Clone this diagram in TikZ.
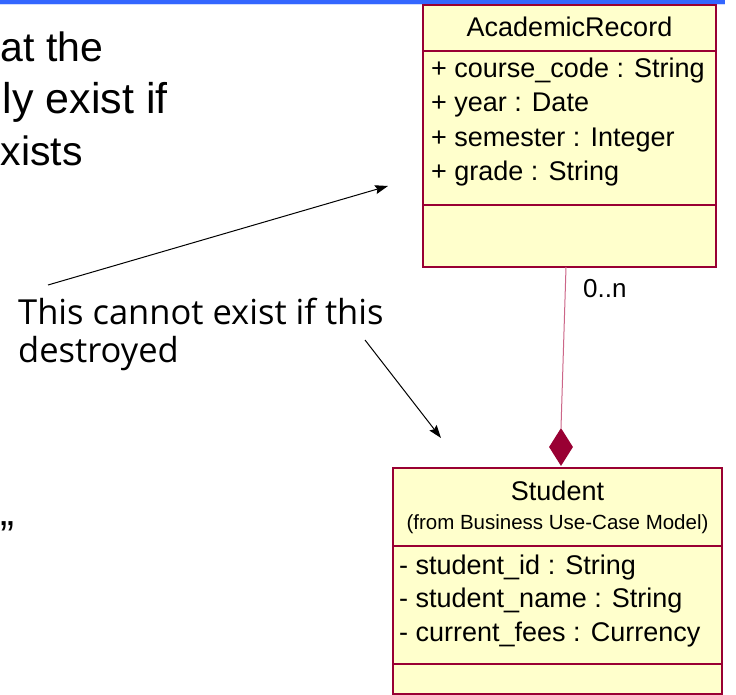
\documentclass[tikz,border=0pt]{standalone}
\usepackage{fontspec}
\setmainfont{Liberation Sans}
\newfontfamily\handfont{Open Sans}
\usetikzlibrary{shapes.geometric,arrows.meta}
\definecolor{umlborder}{HTML}{990033}
\definecolor{umlfill}{HTML}{FFFFCC}
\definecolor{assoccol}{HTML}{CC6688}
\definecolor{barblue}{HTML}{3366FF}
\definecolor{barlight}{HTML}{D0DCFF}
\tikzset{
  classbox/.style={draw=umlborder, fill=umlfill, line width=1.1pt, inner sep=0pt, rectangle},
  divider/.style={draw=umlborder, line width=1.1pt},
  attr/.style={anchor=base west, inner sep=0pt, font=\fontsize{27}{30}\selectfont},
  title/.style={anchor=base, inner sep=0pt, font=\fontsize{27}{30}\selectfont},
  bigtext/.style={anchor=base west, inner sep=0pt, font=\fontsize{42}{50}\selectfont},
  handtext/.style={anchor=base west, inner sep=0pt, font=\handfont\fontsize{34.5}{40}\selectfont},
  pointer/.style={draw=black, line width=1pt, -{Stealth[length=13pt,width=9pt,inset=2pt]}},
  assocline/.style={draw=assoccol, line width=1pt},
  compdiamond/.style={diamond, fill=umlborder, inner sep=0pt, minimum width=24pt, minimum height=38pt}
}
\begin{document}
\begin{tikzpicture}[x=1pt,y=-1pt]
\useasboundingbox (0,0) rectangle (736,695);
\fill[white] (0,0) rectangle (736,695);
% top bar
\fill[barblue] (0,0) rectangle (725,3.8);
\fill[barlight] (0,3.8) rectangle (725,5);

% left big text
\node[bigtext, font=\fontsize{41}{50}\selectfont] (t1) at (0.5,62) {at the};
\node[bigtext, font=\fontsize{43}{50}\selectfont] (t2) at (2.5,114) {ly exist if};
\node[bigtext, font=\fontsize{41}{50}\selectfont] (t3) at (0.5,166) {xists};
\node[bigtext] (t4) at (0.5,550) {”};

% AcademicRecord class
\node[classbox, minimum width=293pt, minimum height=262pt] (ar) at (569.5,136) {};
\draw[divider] (423,51) -- (716,51);
\draw[divider] (423,205) -- (716,205);
\node[title] (arname) at (569.5,37) {AcademicRecord};
\node[attr] (ar1) at (431,78) {+ course\_code : String};
\node[attr] (ar2) at (431,112) {+ year : Date};
\node[attr] (ar3) at (431,147) {+ semester : Integer};
\node[attr] (ar4) at (431,181) {+ grade : String};

% Student class
\node[classbox, minimum width=329pt, minimum height=226pt] (st) at (557.5,581) {};
\draw[divider] (393,546) -- (722,546);
\draw[divider] (393,664) -- (722,664);
\node[title] (stname) at (557.5,500) {Student};
\node[anchor=base, inner sep=0pt, font=\fontsize{20.5}{24}\selectfont] (stfrom) at (557.5,529) {(from Business Use-Case Model)};
\node[attr] (st1) at (399,574) {- student\_id : String};
\node[attr] (st2) at (399,607) {- student\_name : String};
\node[attr] (st3) at (399,641) {- current\_fees : Currency};

% composition
\node[compdiamond] (dia) at (561,447) {};
\coordinate (arb) at (566,267);
\draw[assocline] (arb) -- (dia.north);
\node[anchor=base west, inner sep=0pt, font=\fontsize{26}{30}\selectfont] (mult) at (583,297) {0..n};

% annotation
\node[handtext] (note1) at (18,324) {This cannot exist if this};
\node[handtext] (note2) at (18,362) {destroyed};
\coordinate (p1s) at (48,285);
\coordinate (p1e) at (388,186);
\coordinate (p2s) at (365,340);
\coordinate (p2e) at (441,438);
\draw[pointer] (p1s) -- (p1e);
\draw[pointer] (p2s) -- (p2e);
\end{tikzpicture}
\end{document}
